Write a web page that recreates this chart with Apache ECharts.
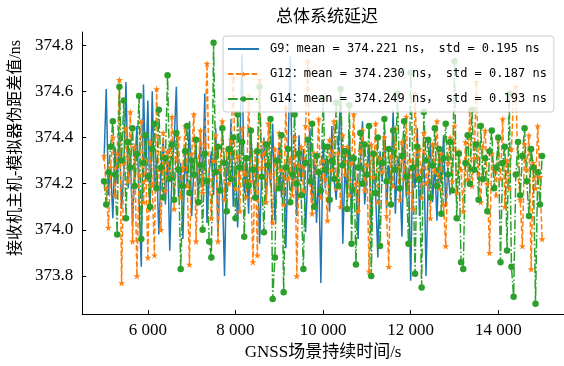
<!DOCTYPE html>
<html>
<head>
<meta charset="utf-8">
<script src="https://cdn.jsdelivr.net/npm/echarts@6/dist/echarts.min.js"></script>
<style>
  html, body { margin: 0; padding: 0; background: #fff; }
  #main { width: 564px; height: 366px; }
</style>
</head>
<body>
<div id="main"></div>
<script>
// 采样时刻 /s
const times = [
  5000, 5050, 5100, 5150, 5200, 5250, 5300, 5350, 5400, 5450,
  5500, 5550, 5600, 5650, 5700, 5750, 5800, 5850, 5900, 5950,
  6000, 6050, 6100, 6150, 6200, 6250, 6300, 6350, 6400, 6450,
  6500, 6550, 6600, 6650, 6700, 6750, 6800, 6850, 6900, 6950,
  7000, 7050, 7100, 7150, 7200, 7250, 7300, 7350, 7400, 7450,
  7500, 7550, 7600, 7650, 7700, 7750, 7800, 7850, 7900, 7950,
  8000, 8050, 8100, 8150, 8200, 8250, 8300, 8350, 8400, 8450,
  8500, 8550, 8600, 8650, 8700, 8750, 8800, 8850, 8900, 8950,
  9000, 9050, 9100, 9150, 9200, 9250, 9300, 9350, 9400, 9450,
  9500, 9550, 9600, 9650, 9700, 9750, 9800, 9850, 9900, 9950,
  10000, 10050, 10100, 10150, 10200, 10250, 10300, 10350, 10400, 10450,
  10500, 10550, 10600, 10650, 10700, 10750, 10800, 10850, 10900, 10950,
  11000, 11050, 11100, 11150, 11200, 11250, 11300, 11350, 11400, 11450,
  11500, 11550, 11600, 11650, 11700, 11750, 11800, 11850, 11900, 11950,
  12000, 12050, 12100, 12150, 12200, 12250, 12300, 12350, 12400, 12450,
  12500, 12550, 12600, 12650, 12700, 12750, 12800, 12850, 12900, 12950,
  13000, 13050, 13100, 13150, 13200, 13250, 13300, 13350, 13400, 13450,
  13500, 13550, 13600, 13650, 13700, 13750, 13800, 13850, 13900, 13950,
  14000, 14050, 14100, 14150, 14200, 14250, 14300, 14350, 14400, 14450,
  14500, 14550, 14600, 14650, 14700, 14750, 14800, 14850, 14900, 14950,
  15000
]

// G9 伪距差值 /ns（到 12900 s 为止）
const g9 = [
  374.30, 374.61, 374.15, 374.28, 374.05, 374.36, 374.20, 374.42, 374.09, 374.25,
  374.64, 374.18, 374.33, 374.02, 374.27, 374.45, 374.12, 373.84, 374.63, 374.21,
  374.56, 374.08, 374.60, 374.17, 374.31, 373.98, 374.26, 374.40, 374.11, 374.35,
  373.91, 374.24, 374.38, 374.62, 374.14, 374.29, 373.96, 374.33, 374.19, 374.47,
  374.06, 374.27, 374.36, 374.12, 374.41, 374.20, 374.59, 374.03, 374.25, 374.34,
  374.15, 374.44, 373.97, 374.28, 374.18, 373.80, 374.32, 374.23, 374.48, 374.10,
  374.29, 374.01, 374.37, 374.76, 374.16, 374.30, 374.07, 374.43, 374.22, 374.13,
  374.35, 373.94, 374.26, 374.40, 374.11, 374.32, 374.19, 374.46, 374.04, 374.27,
  374.38, 374.14, 374.25, 373.92, 374.33, 374.75, 374.17, 374.29, 374.06, 374.41,
  374.21, 374.35, 373.99, 374.24, 374.44, 374.12, 374.30, 374.03, 374.26, 373.77,
  374.39, 374.18, 374.31, 374.08, 374.45, 374.22, 374.13, 374.36, 374.60, 373.94,
  374.27, 374.15, 374.42, 374.05, 374.33, 374.20, 373.96, 374.29, 374.47, 374.11,
  374.24, 374.37, 374.02, 374.30, 374.16, 373.88, 374.34, 374.21, 374.43, 374.09,
  374.28, 374.19, 374.52, 374.07, 374.32, 374.24, 373.97, 374.39, 374.14, 374.27,
  373.78, 374.31, 374.18, 374.44, 374.06, 374.25, 374.35, 373.80, 374.22, 374.38,
  374.12, 374.29, 374.04, 374.33, 374.20, 374.41, 374.10, 374.26, 374.15
]

// G12 伪距差值 /ns
const g12 = [
  374.32, 374.18, 374.01, 374.27, 374.40, 374.15, 374.33, 374.65, 373.77, 374.29,
  374.44, 374.21, 374.51, 373.95, 374.36, 373.80, 374.24, 374.47, 374.12, 374.30,
  373.88, 374.38, 374.20, 373.89, 374.61, 374.26, 374.00, 374.42, 374.17, 374.34,
  374.23, 374.49, 374.09, 374.31, 374.40, 374.14, 374.27, 374.45, 374.19, 373.85,
  374.33, 374.50, 373.95, 374.28, 374.43, 374.16, 374.37, 374.72, 374.22, 374.05,
  374.30, 374.41, 373.95, 374.26, 374.47, 374.13, 374.35, 374.20, 374.39, 374.66,
  374.18, 374.32, 374.08, 374.44, 374.25, 374.14, 374.58, 374.21, 373.86, 374.34,
  373.89, 374.65, 374.27, 374.38, 374.12, 374.46, 374.24, 374.03, 374.35, 374.19,
  374.42, 374.26, 374.11, 374.53, 374.22, 374.31, 374.15, 374.40, 373.80, 374.28,
  374.36, 374.17, 374.45, 374.73, 374.21, 374.07, 374.33, 374.25, 374.48, 374.14,
  374.30, 374.22, 374.04, 374.39, 374.26, 374.47, 374.18, 374.33, 374.10, 374.41,
  374.24, 374.36, 374.15, 374.29, 374.50, 374.20, 374.08, 374.34, 374.43, 374.17,
  374.28, 373.82, 374.37, 374.23, 374.46, 374.12, 374.31, 374.25, 374.40, 374.06,
  373.84, 374.32, 374.19, 374.44, 374.27, 374.13, 374.38, 374.22, 374.49, 374.16,
  374.30, 374.09, 374.59, 374.24, 374.35, 374.14, 374.42, 374.20, 374.31, 374.05,
  374.37, 374.25, 374.47, 374.18, 374.33, 374.11, 373.93, 374.29, 374.40, 374.21,
  374.45, 374.16, 374.34, 374.26, 374.08, 374.38, 374.22, 374.52, 374.19, 374.31,
  374.64, 374.24, 374.12, 374.36, 374.43, 374.20, 373.90, 374.33, 374.27, 374.15,
  374.39, 374.22, 374.48, 374.10, 374.30, 374.18, 374.35, 374.59, 374.62, 374.24,
  374.13, 373.93, 374.37, 374.26, 374.41, 373.83, 374.29, 374.18, 374.45, 374.23,
  373.96
]

// G14 伪距差值 /ns
const g14 = [
  374.21, 374.11, 374.25, 374.36, 374.47, 374.24, 373.98, 374.62, 374.30, 374.56,
  374.05, 374.38, 374.27, 374.44, 374.19, 374.33, 374.58, 373.96, 374.29, 374.41,
  374.23, 374.10, 374.35, 374.46, 374.18, 374.52, 374.27, 374.14, 374.31, 374.67,
  374.22, 374.37, 374.13, 374.42, 374.26, 373.83, 374.19, 374.34, 374.45, 374.16,
  374.30, 374.24, 374.39, 374.12, 374.28, 374.00, 374.33, 374.21, 373.95, 373.88,
  374.81, 374.25, 374.36, 374.17, 374.44, 374.29, 374.08, 374.35, 374.22, 374.40,
  374.05, 374.50, 374.27, 374.38, 373.97, 374.31, 374.19, 374.43, 374.26, 374.14,
  374.34, 374.62, 374.23, 373.99, 374.37, 374.28, 374.48, 373.70, 373.88, 374.30,
  374.18, 374.41, 373.73, 374.27, 374.35, 374.12, 374.24, 374.50, 374.20, 374.33,
  374.15, 373.83, 374.29, 374.39, 374.21, 374.46, 374.10, 374.32, 374.25, 374.17,
  374.57, 374.26, 374.36, 374.13, 374.30, 374.22, 374.55, 374.19, 374.61, 374.28,
  374.34, 374.09, 374.54, 373.94, 374.31, 373.85, 374.27, 374.42, 374.20, 374.37,
  374.24, 374.45, 373.80, 374.33, 374.16, 374.40, 373.93, 374.29, 374.48, 374.21,
  374.35, 374.11, 374.43, 374.26, 374.59, 374.18, 374.32, 374.47, 374.23, 373.94,
  374.68, 374.27, 373.81, 374.36, 374.22, 373.75, 374.51, 374.30, 374.39, 374.14,
  374.28, 374.44, 374.19, 374.35, 374.07, 374.31, 374.46, 374.24, 374.38, 374.17,
  374.73, 374.05, 374.33, 373.86, 373.83, 374.29, 374.41, 374.20, 374.52, 374.26,
  374.37, 374.13, 374.45, 374.22, 374.31, 374.08, 374.34, 374.43, 374.18, 374.27,
  374.40, 373.86, 374.29, 374.36, 373.91, 374.59, 373.84, 373.71, 374.24, 374.38,
  374.15, 374.32, 374.44, 374.21, 374.06, 374.35, 374.27, 373.68, 374.25, 374.11,
  374.32
]

const seriesNames = [
  'G9：mean = 374.221 ns， std = 0.195 ns',
  'G12：mean = 374.230 ns， std = 0.187 ns',
  'G14：mean = 374.249 ns， std = 0.193 ns'
]

const toPairs = (vals) => vals.map((v, i) => [times[i], v])

const starPath = 'path://M50,0 L61,35 L98,35 L68,57 L79,91 L50,70 L21,91 L32,57 L2,35 L39,35 Z'
const serifFont = '"Liberation Serif", "Noto Sans CJK SC", serif'
const cjkFont = '"Noto Sans CJK SC", sans-serif'

const chart = echarts.init(document.getElementById('main'), null, {renderer: 'canvas'})
chart.setOption({
  animation: false,
  backgroundColor: '#fff',
  title: {
    text: '总体系统延迟',
    left: 322,
    top: 2,
    textAlign: 'center',
    textStyle: {
      fontFamily: cjkFont,
      fontSize: 17,
      fontWeight: 'normal',
      color: '#000'
    }
  },
  legend: {
    orient: 'vertical',
    left: 223,
    top: 36,
    padding: [7, 7, 7, 4],
    itemGap: 13,
    itemWidth: 31,
    itemHeight: 7,
    backgroundColor: 'rgba(255,255,255,0.8)',
    borderColor: '#cccccc',
    borderWidth: 1,
    borderRadius: 3,
    textStyle: {
      fontFamily: '"DejaVu Sans Mono", "Noto Sans CJK SC", monospace',
      fontSize: 12,
      color: '#000',
      padding: [0, 0, 0, 6]
    },
    data: [
      {name: seriesNames[0], itemStyle: {opacity: 0}},
      {name: seriesNames[1]},
      {name: seriesNames[2]}
    ]
  },
  grid: {
    left: 79,
    top: 32,
    width: 487,
    height: 285
  },
  xAxis: {
    type: 'value',
    min: 4500,
    max: 15500,
    splitNumber: 5,
    name: 'GNSS场景持续时间/s',
    nameLocation: 'middle',
    nameGap: 28,
    nameTextStyle: {
      fontFamily: serifFont,
      fontSize: 17,
      color: '#000'
    },
    axisLine: {lineStyle: {color: '#000', width: 1}},
    axisTick: {inside: true, length: 4, lineStyle: {color: '#000'}},
    axisLabel: {
      fontFamily: serifFont,
      fontSize: 17,
      color: '#000',
      margin: 8,
      showMinLabel: false,
      showMaxLabel: false,
      formatter: (v) => String(v).replace(/\B(?=(\d{3})+(?!\d))/g, ' ')
    },
    splitLine: {show: false}
  },
  yAxis: {
    type: 'value',
    min: 373.635,
    max: 374.857,
    splitNumber: 5,
    name: '接收机主机-模拟器伪距差值/ns',
    nameLocation: 'middle',
    nameRotate: 90,
    nameGap: 56,
    nameTextStyle: {
      fontFamily: serifFont,
      fontSize: 16,
      color: '#000',
      padding: [0, 0, 0, 50]
    },
    axisLine: {show: true, lineStyle: {color: '#000', width: 1}},
    axisTick: {show: true, inside: true, length: 4, lineStyle: {color: '#000'}},
    axisLabel: {
      fontFamily: serifFont,
      fontSize: 17,
      color: '#000',
      margin: 9,
      showMinLabel: false,
      showMaxLabel: false,
      formatter: (v) => v.toFixed(1)
    },
    splitLine: {show: false}
  },
  series: [
    {
      name: seriesNames[0],
      type: 'line',
      data: toPairs(g9),
      showSymbol: false,
      symbol: 'none',
      color: '#1f77b4',
      lineStyle: {width: 1.5, color: '#1f77b4'}
    },
    {
      name: seriesNames[1],
      type: 'line',
      data: toPairs(g12),
      symbol: starPath,
      symbolSize: 7,
      color: '#ff7f0e',
      itemStyle: {color: '#ff7f0e'},
      lineStyle: {width: 1.5, color: '#ff7f0e', type: [5.5, 2.4]}
    },
    {
      name: seriesNames[2],
      type: 'line',
      data: toPairs(g14),
      symbol: 'circle',
      symbolSize: 6.5,
      color: '#2ca02c',
      itemStyle: {color: '#2ca02c'},
      lineStyle: {width: 1.5, color: '#2ca02c', type: [9.6, 2.4, 1.5, 2.4]}
    }
  ]
})
</script>
</body>
</html>
